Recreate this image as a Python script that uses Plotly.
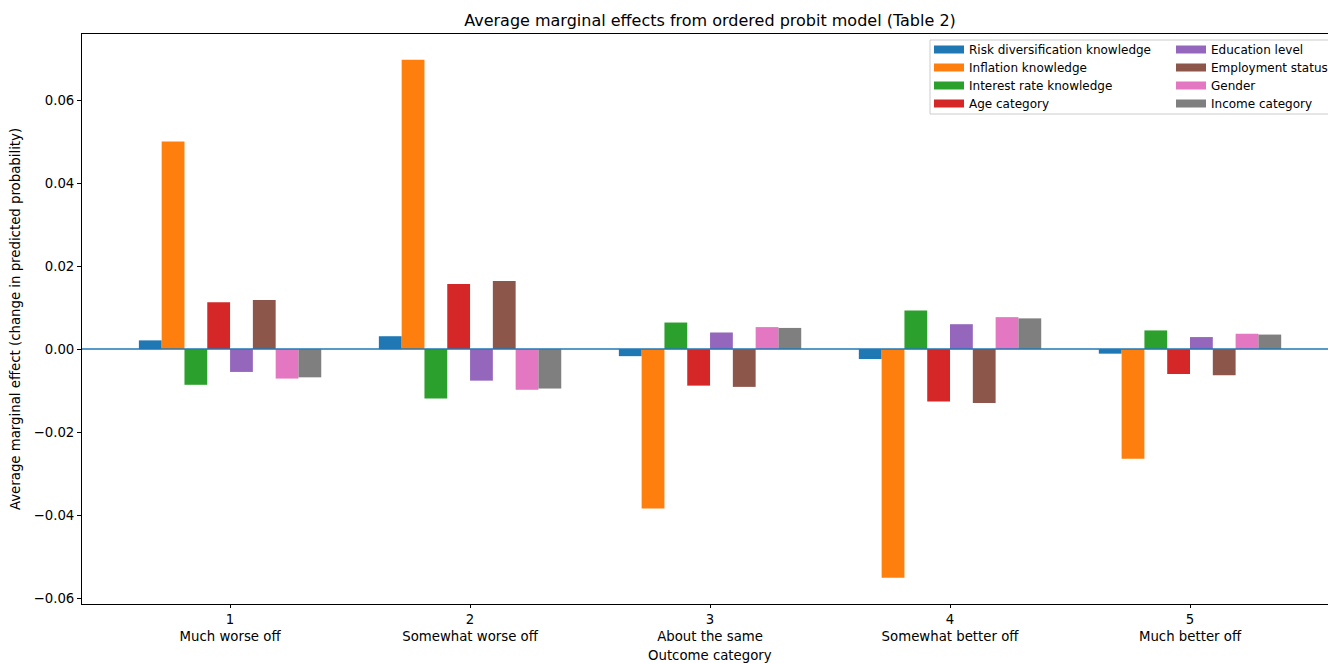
import plotly.graph_objects as go

outcomes = [1, 2, 3, 4, 5]
outcome_labels = ["Much worse off", "Somewhat worse off", "About the same",
                  "Somewhat better off", "Much better off"]

risk_div = [0.0021, 0.0031, -0.0017, -0.0024, -0.0011]
inflation = [0.0500, 0.0697, -0.0384, -0.0551, -0.0264]
interest = [-0.0086, -0.0119, 0.0064, 0.0093, 0.0045]
age = [0.0113, 0.0157, -0.0088, -0.0126, -0.0060]
education = [-0.0055, -0.0076, 0.0040, 0.0060, 0.0029]
employment = [0.0118, 0.0164, -0.0091, -0.0130, -0.0063]
gender = [-0.0071, -0.0098, 0.0053, 0.0077, 0.0037]
income = [-0.0068, -0.0095, 0.0051, 0.0074, 0.0035]

series_names = ["Risk diversification knowledge", "Inflation knowledge",
                "Interest rate knowledge", "Age category", "Education level",
                "Employment status", "Gender", "Income category"]
series_values = [risk_div, inflation, interest, age, education, employment, gender, income]
colors = ["#1f77b4", "#ff7f0e", "#2ca02c", "#d62728", "#9467bd",
          "#8c564b", "#e377c2", "#7f7f7f"]

W, H = 1328, 663
L, R, T, B = 82, 0, 34, 59
pw = W - L - R
ph = H - T - B

def px_x(px):
    return (px - L) / pw

def px_y(py):
    return (H - B - py) / ph

font = "DejaVu Sans"

fig = go.Figure()
for name, vals, col in zip(series_names, series_values, colors):
    fig.add_trace(go.Bar(x=outcomes, y=vals, name=name, marker_color=col,
                         marker_line_width=0, showlegend=False))

# legend entries: two columns of four, one legend per entry
legend_layout = {}
row_y = [49.5, 67.5, 85.5, 103.5]
col_x = [929, 1171]
for i, (name, col) in enumerate(zip(series_names, colors)):
    key = "legend" if i == 0 else f"legend{i + 1}"
    fig.add_trace(go.Scatter(x=[None], y=[None], mode="lines", name=name,
                             line=dict(color=col, width=8), legend=key))
    legend_layout[key] = dict(
        x=px_x(col_x[i // 4]), y=px_y(row_y[i % 4]), xanchor="left", yanchor="middle",
        bgcolor="rgba(0,0,0,0)", borderwidth=0, font=dict(size=12, family=font, color="black"),
        itemwidth=30)

tick_text = [f"{o}<br>{l}" for o, l in zip(outcomes, outcome_labels)]

fig.update_layout(
    width=W, height=H,
    margin=dict(l=L, r=R, t=T, b=B, autoexpand=False),
    plot_bgcolor="white", paper_bgcolor="white",
    barmode="group", bargap=0.24, bargroupgap=0,
    font=dict(family=font, color="black", size=13),
    title=dict(text="Average marginal effects from ordered probit model (Table 2)",
               x=710 / W, xanchor="center", xref="container",
               y=1 - 20 / H, yanchor="middle", yref="container",
               font=dict(size=16, family=font, color="black")),
    xaxis=dict(range=[0.383, 5.575], tickvals=outcomes, ticktext=tick_text,
               showgrid=False, zeroline=False, showline=True, linecolor="black",
               linewidth=1, mirror=True, ticks="outside", ticklen=3,
               tickcolor="black", tickfont=dict(size=13.3), automargin=False),
    yaxis=dict(range=[-0.0614, 0.0759], tickvals=[-0.06, -0.04, -0.02, 0, 0.02, 0.04, 0.06],
               tickformat=".2f", showgrid=False, zeroline=False, showline=True,
               linecolor="black", linewidth=1, ticks="outside", ticklen=4,
               tickcolor="black", tickfont=dict(size=13.3), automargin=False,
               title=dict(text="Average marginal effect (change in predicted probability)",
                          font=dict(size=13.3), standoff=9)),
    annotations=[
        dict(text="Outcome category", xref="paper", yref="paper", x=px_x(710),
             y=px_y(655), xanchor="center", yanchor="middle", showarrow=False,
             font=dict(size=13.3, family=font, color="black")),
    ],
    shapes=[
        dict(type="rect", xref="paper", yref="paper", x0=px_x(930), x1=px_x(1345),
             y0=px_y(114), y1=px_y(40), line=dict(color="#cccccc", width=1),
             fillcolor="rgba(255,255,255,0.8)", layer="above"),
        dict(type="line", xref="paper", yref="y", x0=0, x1=1, y0=0, y1=0,
             line=dict(color="#1f77b4", width=1.5), layer="above"),
    ],
    **legend_layout,
)

fig.write_html("out.html", config={"displayModeBar": False},
               post_script="document.body.style.margin='0';document.body.style.overflow='hidden';")
